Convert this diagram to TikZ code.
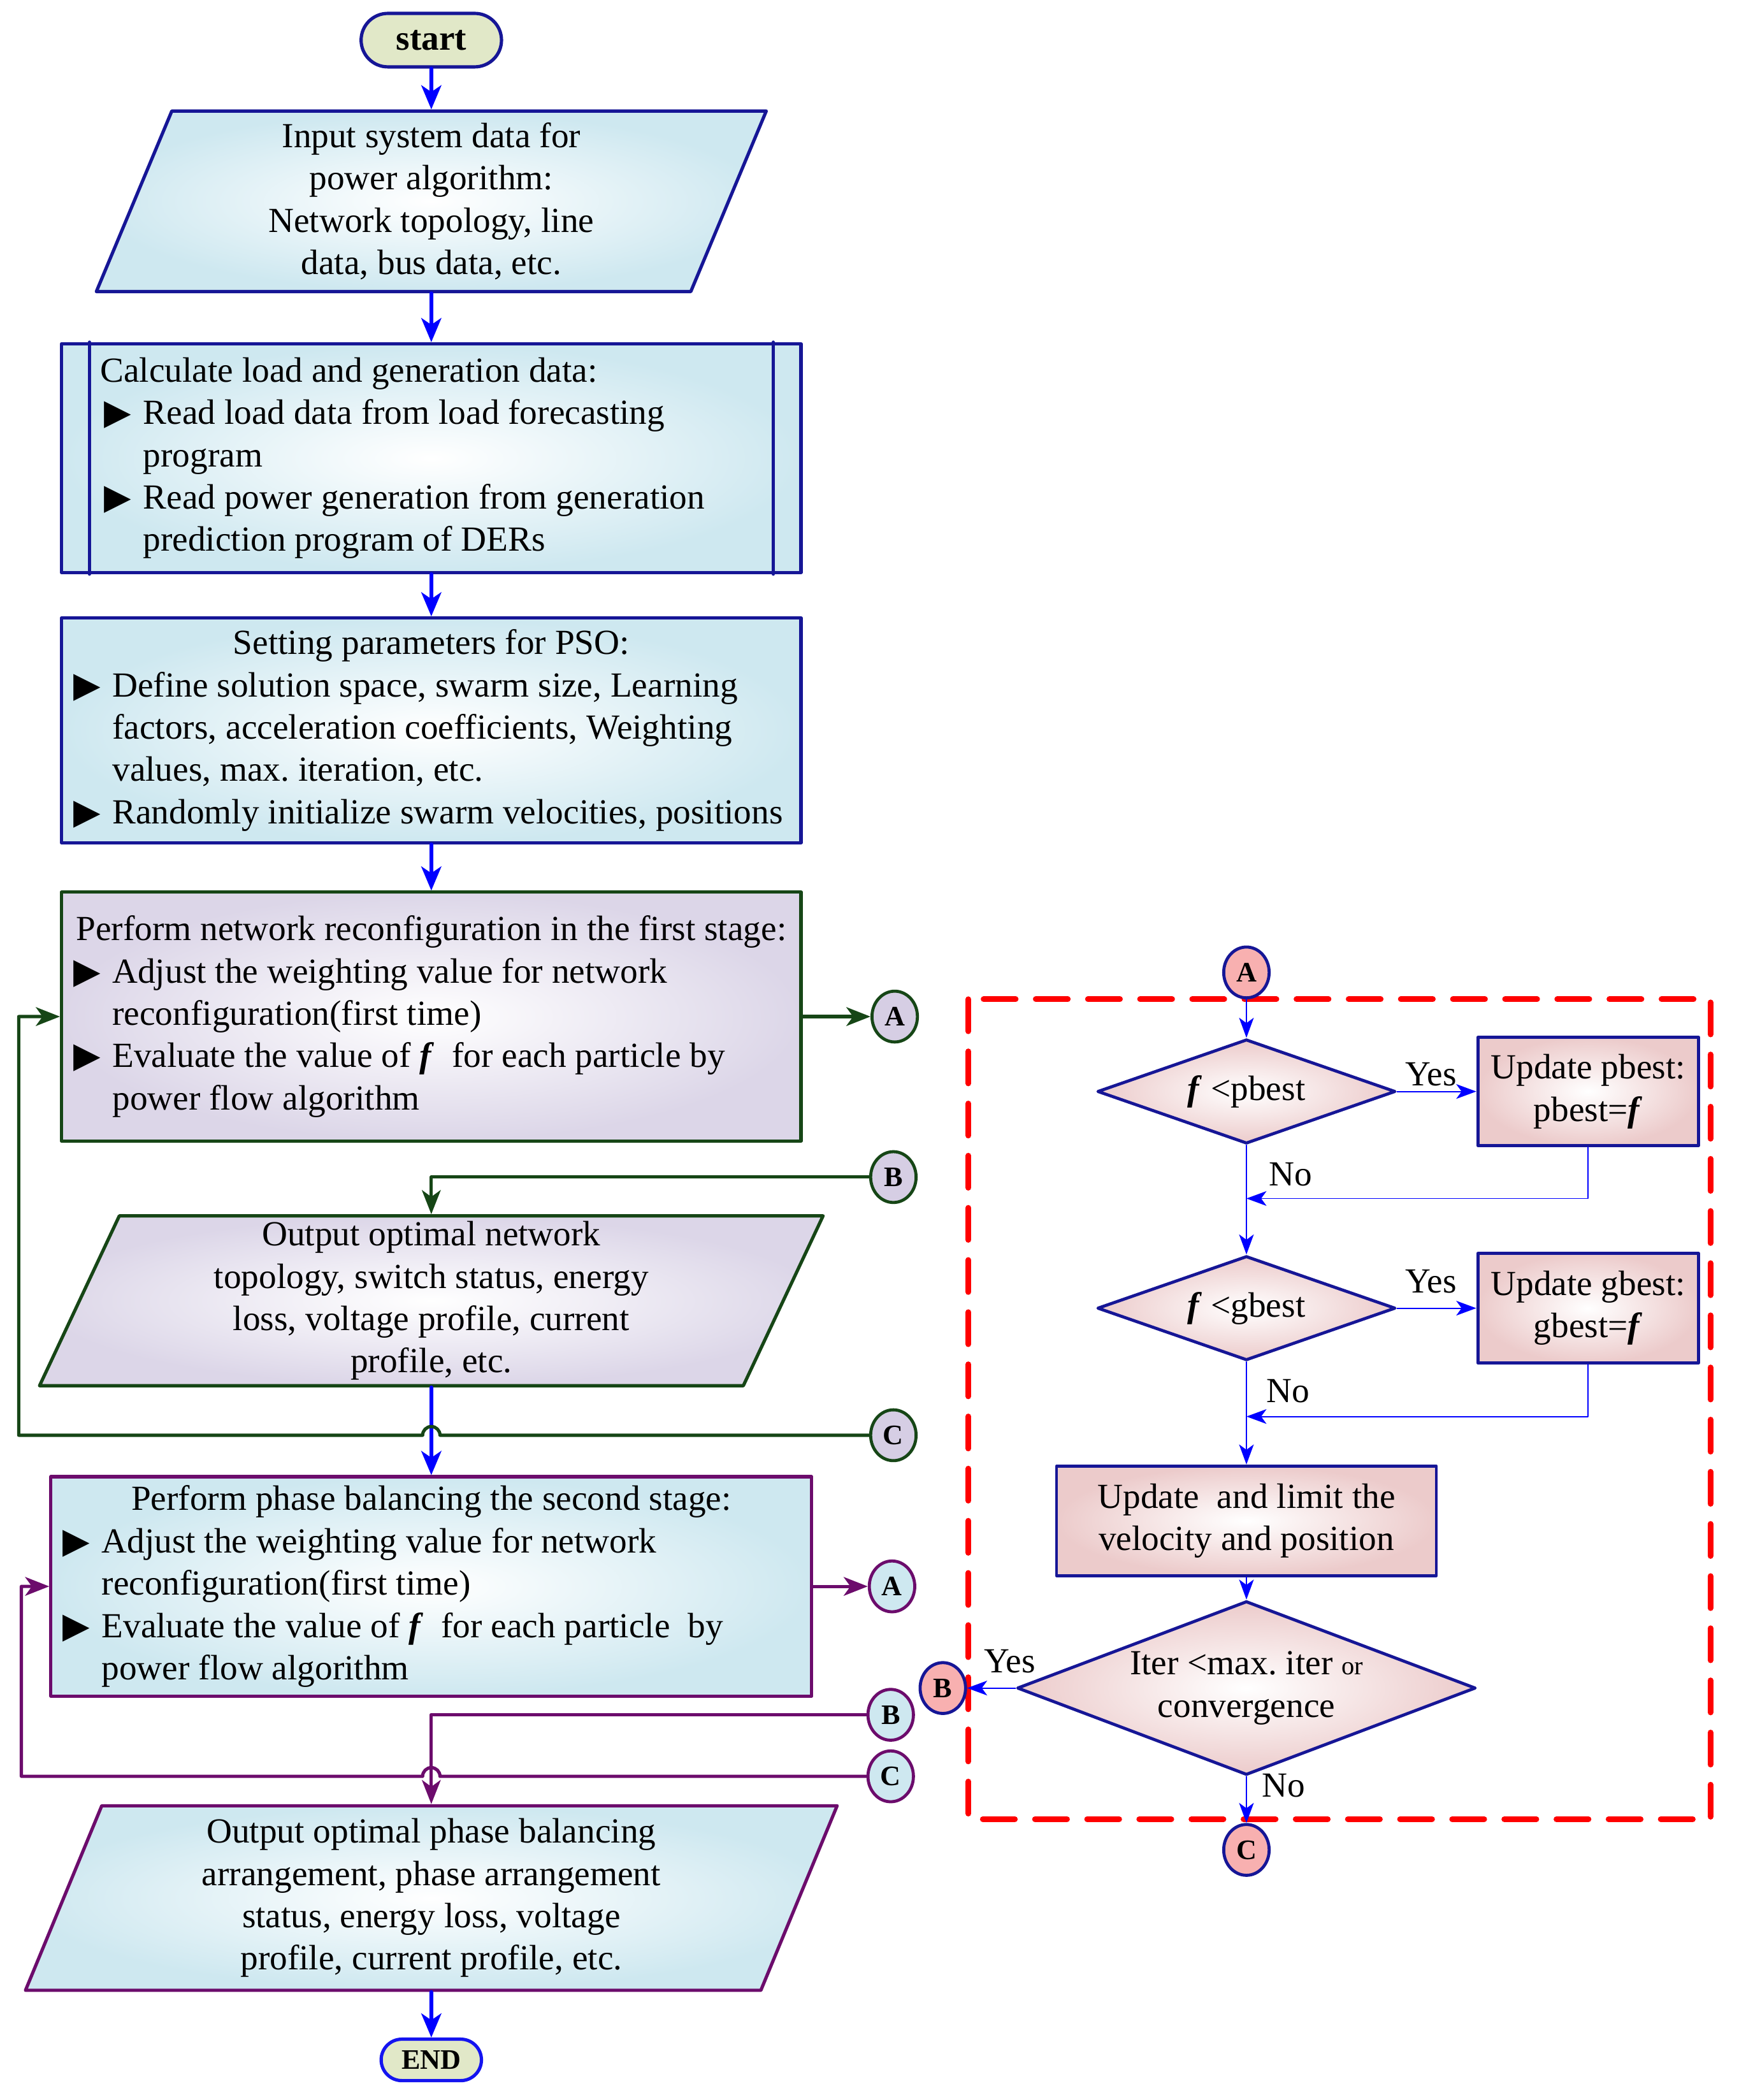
\documentclass[tikz,border=0pt]{standalone}
\usepackage{fontspec}
\setmainfont{Liberation Serif}
\newfontfamily\symfont{DejaVu Sans}
\usepackage{tikz}
\usetikzlibrary{arrows.meta}
\usetikzlibrary{shapes.geometric}
\usetikzlibrary{shapes.misc}
\usetikzlibrary{positioning}
\definecolor{navyline}{RGB}{22,22,150}
\definecolor{flowblue}{RGB}{0,0,255}
\definecolor{endblue}{RGB}{20,20,240}
\definecolor{stagegreen}{RGB}{22,70,22}
\definecolor{stagepurple}{RGB}{108,12,108}
\definecolor{iceblue}{RGB}{206,232,240}
\definecolor{lavender}{RGB}{220,214,232}
\definecolor{lilac}{RGB}{214,206,228}
\definecolor{rose}{RGB}{236,203,203}
\definecolor{sage}{RGB}{225,232,200}
\definecolor{coral}{RGB}{248,176,176}
\definecolor{dashred}{RGB}{255,0,0}
\newcommand{\bul}{\makebox[0.58cm][l]{\symfont\fontsize{15}{15}\selectfont ▶}}
\newcommand{\fb}{\textbf{\textit{f}}}
\frenchspacing
\tikzset{
  txt/.style={font=\fontsize{15}{18}\selectfont},
  term/.style={rounded rectangle, draw=navyline, fill=sage, line width=1.4pt, inner sep=0pt},
  io/.style 2 args={trapezium, trapezium left angle=65, trapezium right angle=115, trapezium stretches body=true, draw=#1, line width=1.4pt, shading=radial, inner color=white, outer color=#2, align=center, inner sep=1pt, txt},
  proc/.style 2 args={rectangle, draw=#1, line width=1.4pt, shading=radial, inner color=white, outer color=#2, inner sep=0pt, align=flush left, txt},
  conn/.style 2 args={ellipse, draw=#1, fill=#2, line width=1.3pt, minimum width=0.68cm, minimum height=0.76cm, inner sep=0pt, font=\fontsize{12}{14}\selectfont\bfseries},
  decide/.style={diamond, draw=navyline, line width=1.3pt, shading=radial, inner color=white, outer color=rose, inner sep=0pt, align=center, txt},
  update/.style={rectangle, draw=navyline, line width=1.3pt, shading=radial, inner color=white, outer color=rose, inner sep=0pt, align=center, txt},
  flow/.style={draw=flowblue, line width=1.6pt, -{Stealth[length=0.36cm,width=0.3cm,inset=0.1cm]}},
  backlink/.style={draw=#1, line width=1.4pt, -{Stealth[length=0.36cm,width=0.28cm,inset=0.1cm]}},
  subflow/.style={draw=flowblue, line width=0.5pt, -{Stealth[length=0.3cm,width=0.22cm,inset=0.08cm]}},
  lbl/.style={inner sep=0pt, txt},
}

\begin{document}
\begin{tikzpicture}[line cap=round,line join=round,x=0.02cm,y=-0.02cm]
    \useasboundingbox (0,0) rectangle (1300,1570);
    % main column
    \node[term, minimum width=2.1cm, minimum height=0.8cm, font=\fontsize{15}{18}\selectfont\bfseries] (start) at (322.5,30) {start};
    \node[io={navyline}{iceblue}, minimum width=10.02cm, minimum height=2.7cm] (input) at (322.5,150.5) {Input system data for\\power algorithm:\\Network topology, line\\data, bus data, etc.};
    \node[proc={navyline}{iceblue}, minimum width=11.06cm, minimum height=3.42cm, text width=10.86cm] (calc) at (322.5,342.5) {\hspace*{0.48cm}Calculate load and generation data:\\
      \hspace*{0.54cm}\bul Read load data from load forecasting\\
      \hspace*{1.12cm}program\\
      \hspace*{0.54cm}\bul Read power generation from generation\\
      \hspace*{1.12cm}prediction program of DERs};
    \draw[navyline, line width=1.4pt] ([xshift=0.44cm]calc.north west) -- ([xshift=0.44cm]calc.south west);
    \draw[navyline, line width=1.4pt] ([xshift=-0.44cm]calc.north east) -- ([xshift=-0.44cm]calc.south east);
    \node[proc={navyline}{iceblue}, minimum width=11.06cm, minimum height=3.36cm, text width=10.86cm] (pso) at (322.5,546) {\makebox[\hsize]{Setting parameters for PSO:}\\
      \hspace*{0.08cm}\bul Define solution space, swarm size, Learning\\
      \hspace*{0.66cm}factors, acceleration coefficients, Weighting\\
      \hspace*{0.66cm}values, max. iteration, etc.\\
      \hspace*{0.08cm}\bul Randomly initialize swarm velocities, positions};
    % first stage
    \node[proc={stagegreen}{lavender}, minimum width=11.06cm, minimum height=3.72cm, text width=10.86cm] (stage1) at (322.5,760) {\makebox[\hsize]{Perform network reconfiguration in the first stage:}\\
      \hspace*{0.08cm}\bul Adjust the weighting value for network\\
      \hspace*{0.66cm}reconfiguration(first time)\\
      \hspace*{0.08cm}\bul Evaluate the value of \fb\ \ for each particle by\\
      \hspace*{0.66cm}power flow algorithm};
    \node[io={stagegreen}{lavender}, trapezium left angle=64, trapezium right angle=116, minimum width=11.72cm, minimum height=2.54cm] (optnet) at (322.5,972.5) {Output optimal network\\topology, switch status, energy\\loss, voltage profile, current\\profile, etc.};
    % second stage
    \node[proc={stagepurple}{iceblue}, minimum width=11.38cm, minimum height=3.28cm, text width=11.18cm] (stage2) at (322.5,1186) {\makebox[\hsize]{Perform phase balancing the second stage:}\\
      \hspace*{0.08cm}\bul Adjust the weighting value for network\\
      \hspace*{0.66cm}reconfiguration(first time)\\
      \hspace*{0.08cm}\bul Evaluate the value of \fb\ \ for each particle\ \ by\\
      \hspace*{0.66cm}power flow algorithm};
    \node[io={stagepurple}{iceblue}, minimum width=12.14cm, minimum height=2.76cm] (optphase) at (322.5,1419) {Output optimal phase balancing\\arrangement, phase arrangement\\status, energy loss, voltage\\profile, current profile, etc.};
    \node[term, draw=endblue, minimum width=1.5cm, minimum height=0.62cm, font=\fontsize{12}{14}\selectfont\bfseries] (finish) at (322.5,1540) {END};

    \draw[flow] (start) -- (input.north -| start);
    \draw[flow] (input.south -| calc) -- (calc);
    \draw[flow] (calc) -- (pso);
    \draw[flow] (pso) -- (stage1);
    \draw[flow] (optnet.south -| optnet) -- (stage2);
    \draw[flow] (optphase.south -| optphase) -- (finish);

    % off-page connectors, first stage
    \foreach \n/\x/\y in {A/669/760,B/668/880,C/668/1073} {\node[conn={stagegreen}{lilac}] (\n1) at (\x,\y) {\n};}
    \coordinate (loop1) at (14,1073);
    \coordinate (hop1) at (C1 -| optnet);
    \draw[backlink=stagegreen] (stage1) -- (A1);
    \draw[backlink=stagegreen] (B1) -| (optnet.north -| optnet);
    \draw[backlink=stagegreen] (C1) -- ([xshift=0.13cm]hop1) arc[start angle=0,end angle=180,radius=0.13cm] -- (loop1) |- (stage1.west);

    % off-page connectors, second stage
    \foreach \n/\x/\y in {A/667/1186,B/666/1282,C/666/1328} {\node[conn={stagepurple}{iceblue}] (\n2) at (\x,\y) {\n};}
    \coordinate (loop2) at (16,1328);
    \coordinate (hop2) at (C2 -| optphase);
    \draw[backlink=stagepurple] (stage2) -- (A2);
    \draw[backlink=stagepurple] (B2) -| (optphase.north -| optphase);
    \draw[backlink=stagepurple] (C2) -- ([xshift=0.13cm]hop2) arc[start angle=0,end angle=180,radius=0.13cm] -- (loop2) |- (stage2.west);

    % PSO update loop
    \draw[dashred, line width=2.4pt, dash pattern=on 0.48cm off 0.3cm] (724,747) rectangle (1279,1360);
    \node[conn={navyline}{coral}] (A3) at (932,727) {A};
    \node[decide, shape aspect=2.86, minimum width=4.46cm, minimum height=1.56cm] (dec1) at (932,816) {\fb\ <pbest};
    \node[update, minimum width=3.3cm, minimum height=1.62cm] (up1) at (1187.5,816) {Update pbest:\\pbest=\fb};
    \node[decide, shape aspect=2.86, minimum width=4.46cm, minimum height=1.56cm] (dec2) at (932,978) {\fb\ <gbest};
    \node[update, minimum width=3.3cm, minimum height=1.64cm] (up2) at (1187.5,978) {Update gbest:\\gbest=\fb};
    \node[update, minimum width=5.68cm, minimum height=1.64cm] (upd) at (932,1137) {Update\ \ and limit the\\velocity and position};
    \node[decide, shape aspect=2.64, minimum width=6.86cm, minimum height=2.6cm] (dec3) at (932,1262) {Iter <max. iter {\fontsize{11}{13}\selectfont or}\\convergence};
    \node[conn={navyline}{coral}] (B3) at (705,1262) {B};
    \node[conn={navyline}{coral}] (C3) at (932,1383) {C};
    \coordinate (j1) at (932,896);
    \coordinate (j2) at (932,1059);

    \draw[subflow] (A3) -- (dec1);
    \draw[subflow] (dec1) -- (up1);
    \draw[subflow] (dec1) -- (dec2);
    \draw[subflow] (up1) |- (j1);
    \draw[subflow] (dec2) -- (up2);
    \draw[subflow] (dec2) -- (upd);
    \draw[subflow] (up2) |- (j2);
    \draw[subflow] (upd) -- (dec3);
    \draw[subflow] (dec3) -- (B3);
    \draw[subflow] (dec3) -- (C3);
    \node[lbl] (yes1) at (1070,803) {Yes};
    \node[lbl] (no1) at (965,878) {No};
    \node[lbl] (yes2) at (1070,958) {Yes};
    \node[lbl] (no2) at (963,1040) {No};
    \node[lbl] (yes3) at (755,1242) {Yes};
    \node[lbl] (no3) at (960,1335) {No};
\end{tikzpicture}
\end{document}
